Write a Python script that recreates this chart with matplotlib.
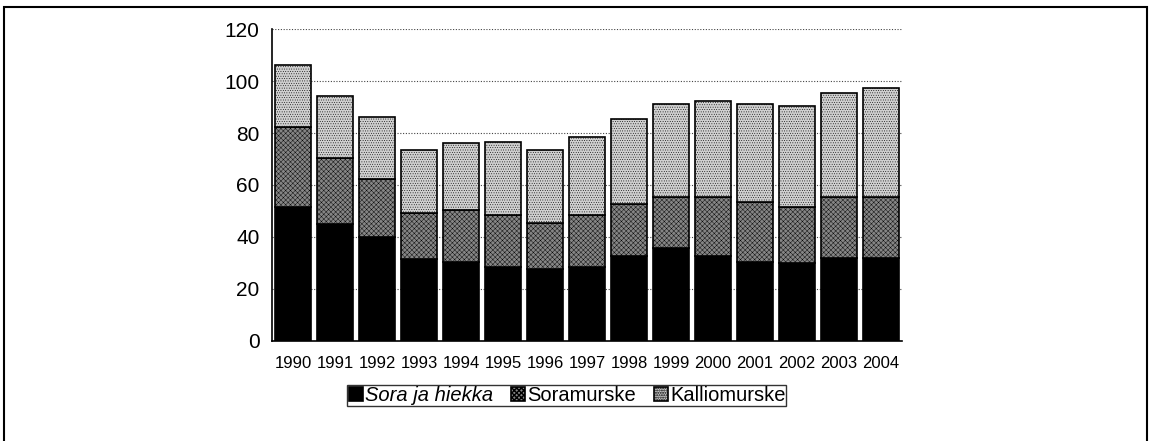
import numpy as np
import matplotlib.pyplot as plt
from matplotlib.patches import Rectangle

plt.rcParams['font.family'] = ['Liberation Sans', 'DejaVu Sans']
plt.rcParams['hatch.color'] = '#4a4a4a'

years = [str(y) for y in range(1990, 2005)]
sora_ja_hiekka = [51.5, 44.9, 39.9, 31.4, 30.5, 28.6, 27.6, 28.6, 32.7, 35.7, 32.7, 30.5, 29.9, 31.8, 31.8]
soramurske_top = [82.5, 70.3, 62.4, 49.4, 50.4, 48.5, 45.5, 48.5, 52.6, 55.5, 55.5, 53.5, 51.5, 55.5, 55.5]
total = [106.0, 94.3, 86.3, 73.3, 76.3, 76.4, 73.3, 78.6, 85.4, 91.2, 92.5, 91.2, 90.2, 95.3, 97.5]

sora = np.array(sora_ja_hiekka)
soram = np.array(soramurske_top) - sora
kallio = np.array(total) - np.array(soramurske_top)

fig = plt.figure(figsize=(11.51, 4.41), dpi=100)
ax = fig.add_axes([0.2363, 0.2268, 0.5474, 0.7074])

x = np.arange(len(years))
w = 0.85
b1 = ax.bar(x, sora, w, color='black', edgecolor='black', lw=1.2, label='Sora ja hiekka', zorder=3)
b2 = ax.bar(x, soram, w, bottom=sora, color='#858585', edgecolor='black', lw=1.2,
            hatch='xxxxxxx', label='Soramurske', zorder=3)
b3 = ax.bar(x, kallio, w, bottom=sora + soram, color='#d0d0d0', edgecolor='black', lw=1.2,
            hatch='.......', label='Kalliomurske', zorder=3)
for p in list(b2) + list(b3):
    p.set_hatch_linewidth(0.3)

ax.set_xlim(-0.5, len(years) - 0.5)
ax.set_ylim(0, 120)
ax.set_yticks(range(0, 121, 20))
ax.set_xticks(x)
ax.set_xticklabels(years, fontsize=12)
ax.tick_params(axis='y', labelsize=15, length=0, pad=9)
ax.tick_params(axis='x', length=0, pad=11)
ax.yaxis.grid(True, linestyle=(0, (1, 1.5)), color='#444444', lw=0.8, zorder=0)
ax.set_axisbelow(True)
for s in ['top', 'right']:
    ax.spines[s].set_visible(False)
ax.spines['left'].set_linewidth(1.2)
ax.spines['bottom'].set_linewidth(1.2)

leg = fig.legend(handles=[b1, b2, b3], loc='center', bbox_to_anchor=(0.4926, 0.1032),
                 ncol=3, frameon=True, fancybox=False, fontsize=14.5,
                 handlelength=0.7, handleheight=0.7, handletextpad=0.1,
                 columnspacing=0.9, borderpad=0.05, borderaxespad=0)
leg.get_frame().set_edgecolor('black')
leg.get_frame().set_linewidth(1.0)
leg.get_texts()[0].set_fontstyle('italic')

# outer frame of the figure
fig.patches.append(Rectangle((4 / 1151, -0.05), 1143 / 1151, 1 - 7 / 441 + 0.05,
                             transform=fig.transFigure, fill=False, ec='black', lw=1.5))

fig.savefig('out.png', dpi=100)
